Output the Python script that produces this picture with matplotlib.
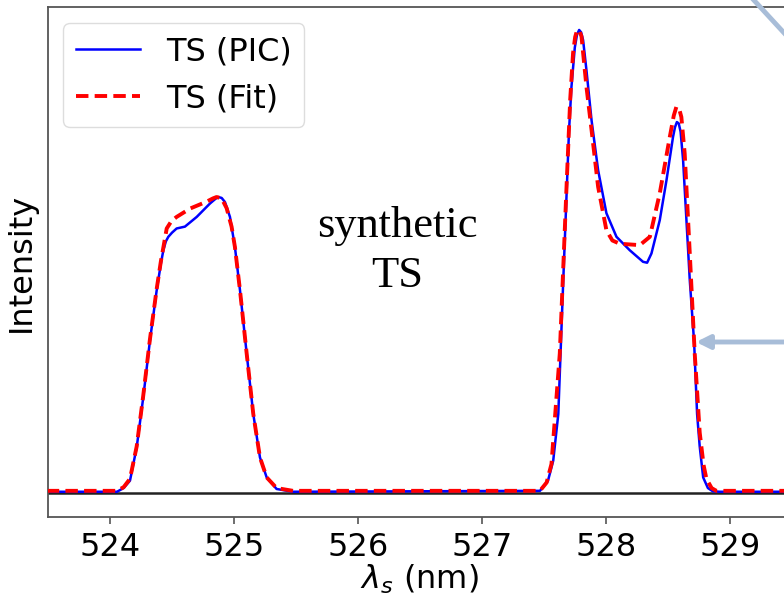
import matplotlib.pyplot as plt
from matplotlib.lines import Line2D

# TS (PIC) spectrum
pic_x = [523.49, 524.056, 524.110, 524.161, 524.215, 524.268, 524.322, 524.376, 524.410,
         524.430, 524.450, 524.470, 524.500, 524.537, 524.604, 524.699, 524.806, 524.850,
         524.873, 524.900, 524.927, 524.967, 525.007, 525.048, 525.102, 525.155, 525.209,
         525.263, 525.343, 525.475,
         527.466, 527.530, 527.573, 527.614, 527.654, 527.680, 527.700, 527.720, 527.747,
         527.765, 527.782, 527.798, 527.814, 527.841, 527.882, 527.935, 528.002, 528.083,
         528.190, 528.297, 528.330, 528.365, 528.432, 528.486, 528.539, 528.555, 528.570,
         528.585, 528.600, 528.620, 528.647, 528.674, 528.709, 528.733, 528.754, 528.782,
         528.820, 528.860, 528.915, 529.49]
pic_y = [0.002, 0.002, 0.010, 0.026, 0.098, 0.206, 0.329, 0.437, 0.495,
         0.524, 0.543, 0.553, 0.562, 0.571, 0.575, 0.596, 0.625, 0.635,
         0.639, 0.637, 0.628, 0.596, 0.531, 0.437, 0.300, 0.170, 0.076,
         0.033, 0.008, 0.002,
         0.004, 0.025, 0.069, 0.170, 0.459, 0.640, 0.780, 0.877, 0.962,
         0.990, 1.000, 0.995, 0.978, 0.913, 0.805, 0.697, 0.604, 0.553,
         0.524, 0.499, 0.497, 0.517, 0.589, 0.675, 0.769, 0.790, 0.801,
         0.798, 0.780, 0.719, 0.589, 0.459, 0.325, 0.170, 0.100, 0.033,
         0.010, 0.003, 0.002, 0.002]

# TS (Fit) spectrum
fit_x = [523.49, 524.056, 524.110, 524.161, 524.215, 524.268, 524.322, 524.376, 524.410,
         524.430, 524.457, 524.495, 524.537, 524.645, 524.779, 524.830, 524.859, 524.900,
         524.940, 524.980, 525.007, 525.048, 525.102, 525.155, 525.209, 525.263, 525.343,
         525.475,
         527.466, 527.520, 527.559, 527.626, 527.680, 527.710, 527.733, 527.750, 527.766,
         527.784, 527.801, 527.841, 527.882, 527.935, 528.002, 528.050, 528.110, 528.271,
         528.352, 528.432, 528.513, 528.545, 528.566, 528.588, 528.606, 528.633, 528.674,
         528.714, 528.754, 528.785, 528.808, 528.850, 528.888, 529.49]
fit_y = [0.004, 0.004, 0.012, 0.030, 0.100, 0.210, 0.332, 0.440, 0.500,
         0.530, 0.571, 0.587, 0.596, 0.614, 0.629, 0.636, 0.639, 0.636,
         0.615, 0.575, 0.531, 0.437, 0.300, 0.170, 0.076, 0.033, 0.010,
         0.004,
         0.004, 0.022, 0.062, 0.301, 0.659, 0.850, 0.950, 0.985, 1.000,
         0.998, 0.986, 0.877, 0.784, 0.661, 0.567, 0.545, 0.538, 0.535,
         0.553, 0.647, 0.769, 0.815, 0.834, 0.830, 0.812, 0.733, 0.517,
         0.300, 0.130, 0.060, 0.030, 0.010, 0.004, 0.004]

xticks = [524, 525, 526, 527, 528, 529]

fig = plt.figure(figsize=(7.84, 5.94), dpi=100)
W, H = 784, 594
ax = fig.add_axes([47.5 / W, 1 - 516.7 / H, (791 - 47.5) / W, (516.7 - 7.3) / H])

ax.axhline(0, color="#222222", lw=1.8, zorder=1)
ax.plot(pic_x, pic_y, color="blue", lw=1.8, label="TS (PIC)", zorder=2)
ax.plot(fit_x, fit_y, color="red", lw=2.8, ls=(0, (3.2, 1.6)), label="TS (Fit)", zorder=3)

ax.set_xlim(523.496, 529.49)
ax.set_ylim(-0.0519, 1.049)
ax.set_xticks(xticks)
ax.set_yticks([])
ax.tick_params(axis="x", labelsize=23, length=5, width=1.2, color="#555555", pad=6)
for s in ax.spines.values():
    s.set_color("#555555")
    s.set_linewidth(1.3)

ax.set_xlabel(r"$\lambda_s$ (nm)", fontsize=23, labelpad=0)
ax.set_ylabel("Intensity", fontsize=23, labelpad=8)
ax.legend(loc="upper left", fontsize=23, framealpha=1, edgecolor="#dddddd")

# multi-line text: baseline alignment is on the last line ("TS")
ax.text(397 / W, 1 - 287 / H, "synthetic\nTS", transform=fig.transFigure,
        ha="center", va="baseline", fontsize=32, family="Liberation Serif",
        linespacing=1.32)

# slide decorations: arrow from the right and a diagonal connector
blue_grey = "#a8bdd8"
ax.annotate("", xy=(696 / W, 1 - 342 / H), xytext=(800 / W, 1 - 342 / H),
            xycoords=fig.transFigure, textcoords=fig.transFigure,
            arrowprops=dict(arrowstyle="-|>,head_length=0.8,head_width=0.4",
                            color=blue_grey, lw=3.5, shrinkA=0, shrinkB=0),
            annotation_clip=False)
fig.add_artist(Line2D([751 / W, 786 / W], [1.005, 1 - 35 / H], color=blue_grey,
                      lw=3.5, transform=fig.transFigure))

fig.savefig("out.png", dpi=100)
